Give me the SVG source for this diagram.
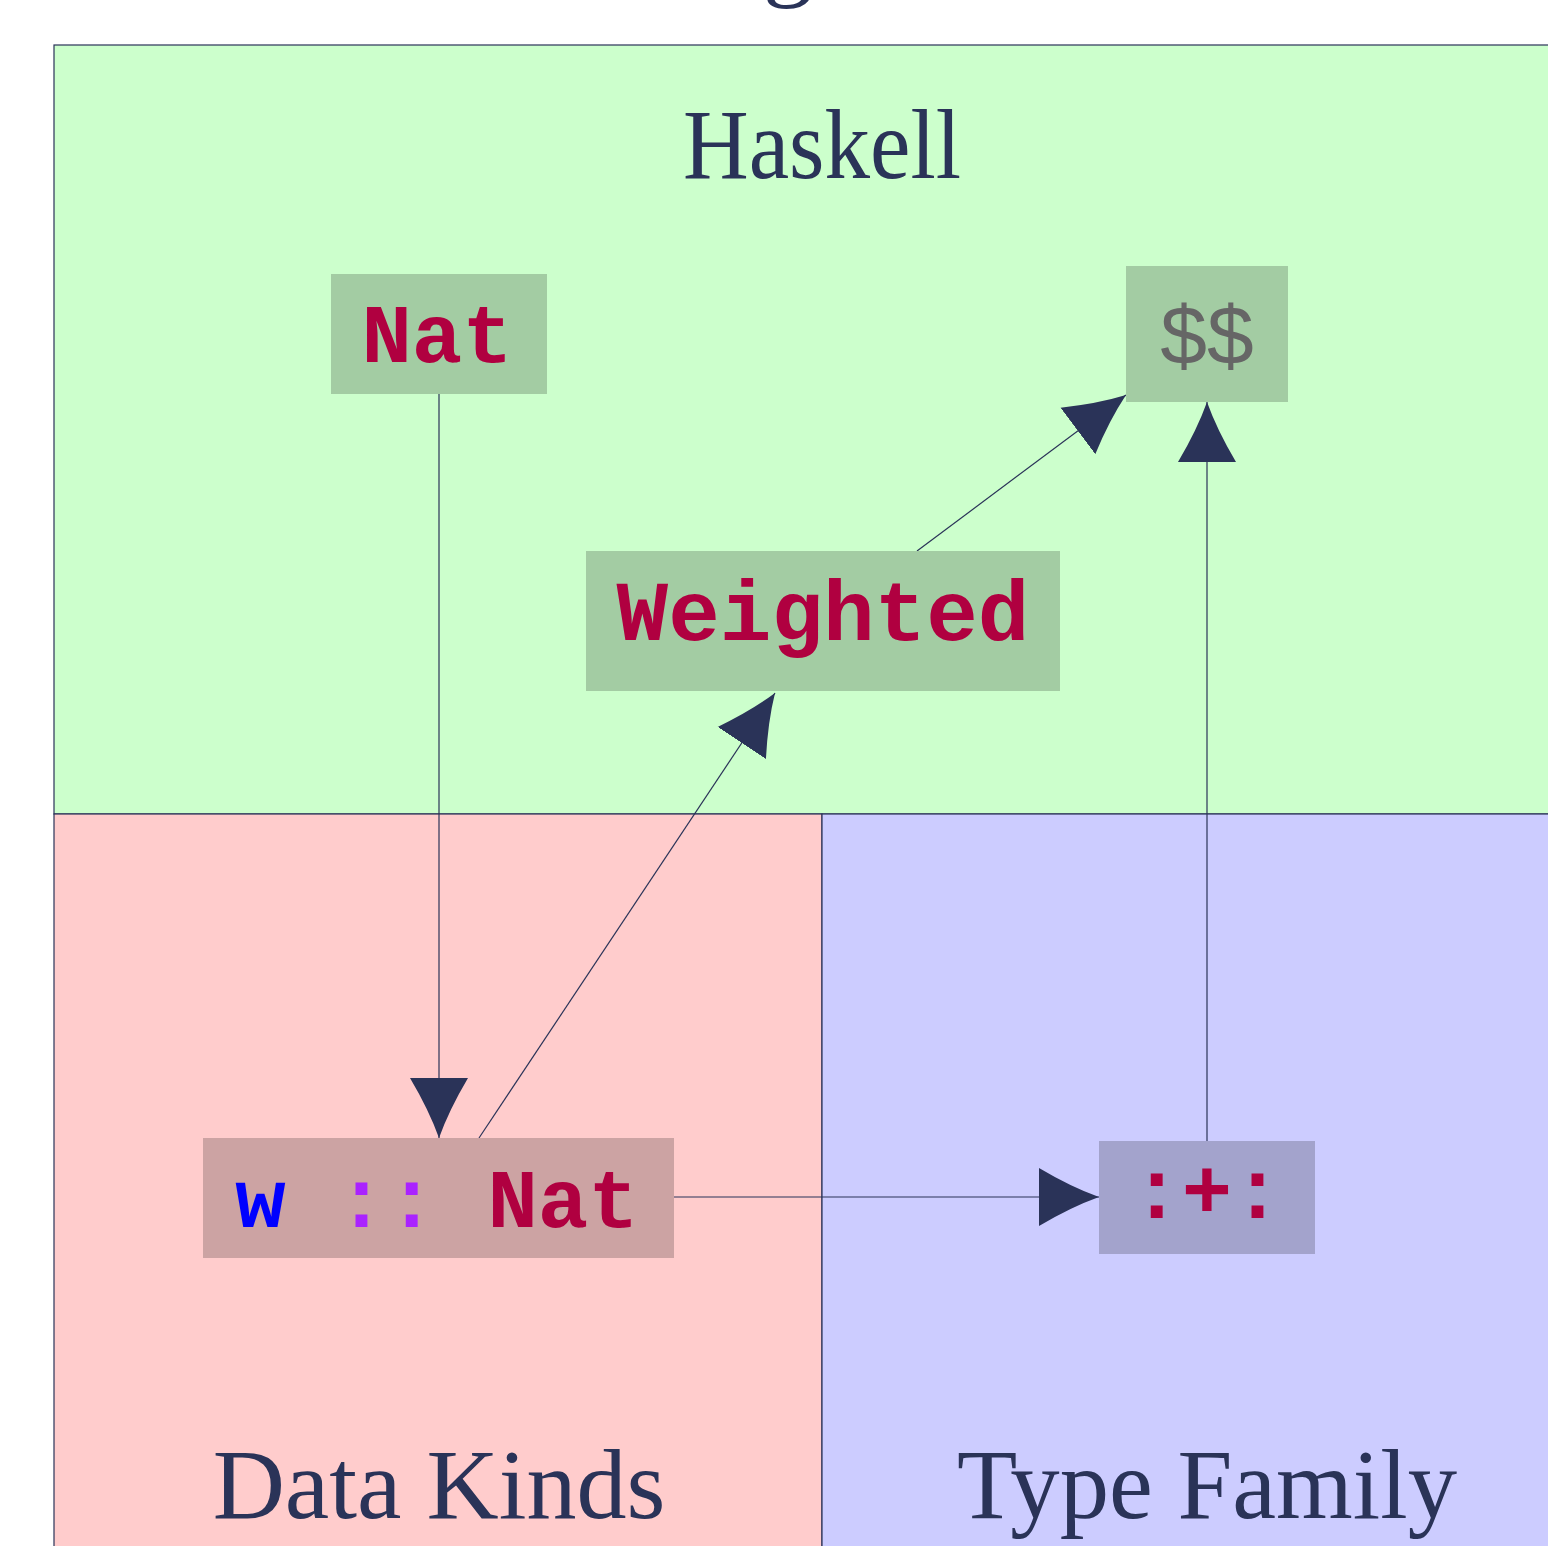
<svg xmlns="http://www.w3.org/2000/svg" width="1548" height="1546" viewBox="0 0 1548 1546">
<style>
.region{stroke:#2a3358;stroke-width:1.2}
.label{font-family:"Liberation Serif",serif;font-size:100px;fill:#2a3358;text-anchor:middle}
.code{font-family:"Liberation Mono",monospace;font-weight:bold;text-anchor:middle}
.conn{stroke:#2a3358;stroke-width:1.2;fill:none;marker-end:url(#arr)}
</style>
<defs>
<marker id="arr" markerUnits="userSpaceOnUse" markerWidth="62" markerHeight="62" viewBox="0 -31 62 62" refX="60" refY="0" orient="auto">
<path d="M60,0 Q32,-10 0,-29 L0,29 Q32,10 60,0 Z" fill="#2a3358"/>
</marker>
</defs>
<rect width="1548" height="1546" fill="#ffffff"/>
<text class="label" x="788" y="-12">g</text>
<g id="haskell">
<rect class="region" x="54" y="45" width="1600" height="769" fill="#ccffcc"/>
<text class="label" x="822" y="178" textLength="278" lengthAdjust="spacingAndGlyphs">Haskell</text>
</g>
<g id="datakinds">
<rect class="region" x="54" y="814" width="768" height="800" fill="#ffcccc"/>
<text class="label" x="439" y="1518">Data Kinds</text>
</g>
<g id="typefamily">
<rect class="region" x="822" y="814" width="800" height="800" fill="#ccccff"/>
<text class="label" x="1207" y="1518" textLength="500" lengthAdjust="spacingAndGlyphs">Type Family</text>
</g>
<g id="connectors">
<line class="conn" x1="439" y1="394" x2="439" y2="1138"/>
<line class="conn" x1="479" y1="1138" x2="775" y2="693"/>
<line class="conn" x1="917" y1="551" x2="1126" y2="395"/>
<line class="conn" x1="1207" y1="1141" x2="1207" y2="402"/>
<line class="conn" x1="674" y1="1197" x2="1099" y2="1197"/>
</g>
<g id="nat">
<rect x="331" y="274" width="216" height="120" fill="#a3cca3"/>
<text class="code" x="437" y="362" font-size="84" fill="#b00040">Nat</text>
</g>
<g id="dollar">
<rect x="1126" y="266" width="162" height="136" fill="#a3cca3"/>
<text x="1207" y="364" font-family="Liberation Sans, sans-serif" font-size="84" fill="#666666" text-anchor="middle">$$</text>
</g>
<g id="weighted">
<rect x="586" y="551" width="474" height="140" fill="#a3cca3"/>
<text class="code" x="823" y="640" font-size="86" fill="#b00040">Weighted</text>
</g>
<g id="wnat">
<rect x="203" y="1138" width="471" height="120" fill="#cca3a3"/>
<text class="code" x="437" y="1227" font-size="84"><tspan fill="#0000ff">w</tspan><tspan fill="#aa22ff"> ::</tspan><tspan fill="#b00040"> Nat</tspan></text>
</g>
<g id="plus">
<rect x="1099" y="1141" width="216" height="113" fill="#a3a3cc"/>
<text class="code" x="1207" y="1218" font-size="84" fill="#b00040">:+:</text>
</g>
</svg>
